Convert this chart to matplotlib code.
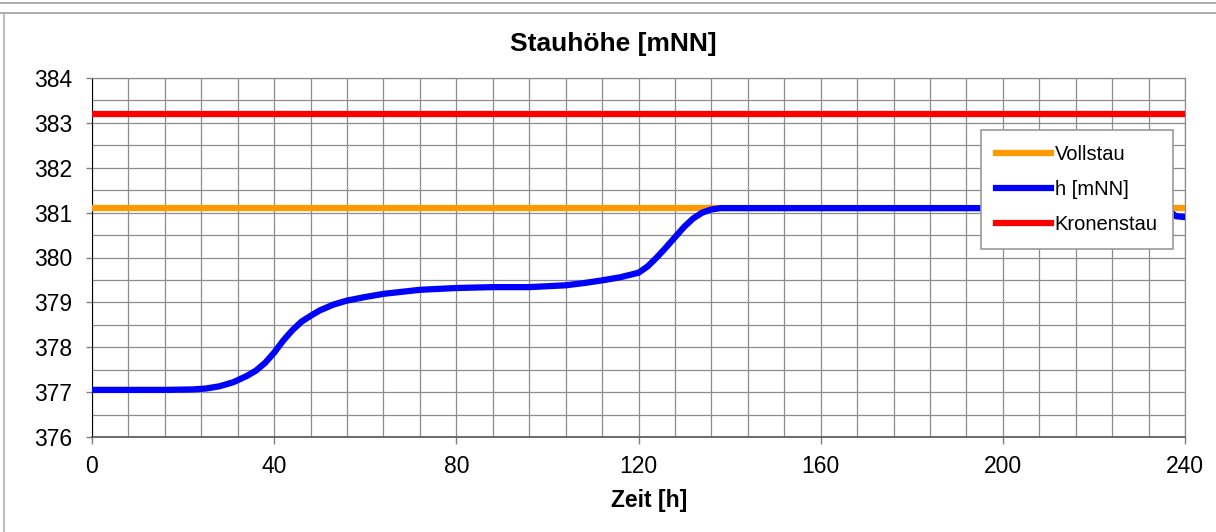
import numpy as np
import matplotlib
matplotlib.use("Agg")
import matplotlib.pyplot as plt
from matplotlib.lines import Line2D

plt.rcParams['font.family'] = ['Liberation Sans', 'DejaVu Sans']

# data
zeit = [0, 8, 16, 22, 25, 28, 31, 34, 36, 38, 40, 42, 44, 46, 48, 50, 53, 56,
        60, 64, 72, 80, 88, 96, 104, 108, 112, 116, 120, 122, 124, 126, 128,
        130, 132, 134, 136, 138, 150, 200, 236, 237, 238, 240]
h_mnn = [377.05, 377.05, 377.05, 377.06, 377.08, 377.13, 377.22, 377.36, 377.48,
         377.65, 377.88, 378.15, 378.38, 378.57, 378.70, 378.82, 378.95, 379.04,
         379.12, 379.19, 379.28, 379.32, 379.34, 379.34, 379.38, 379.43, 379.49,
         379.56, 379.66, 379.80, 380.00, 380.22, 380.45, 380.68, 380.87, 381.00,
         381.07, 381.10, 381.10, 381.10, 381.10, 381.00, 380.92, 380.90]
vollstau = 381.1
kronenstau = 383.2
x_ticks = [0, 40, 80, 120, 160, 200, 240]
y_ticks = [376, 377, 378, 379, 380, 381, 382, 383, 384]

fig = plt.figure(figsize=(12.16, 5.32), dpi=100)
ax = fig.add_axes([92/1216, 1-437/532, (1185-92)/1216, (437-78)/532])

ax.plot([0, 240], [vollstau, vollstau], color='#ff9900', lw=4.5, label='Vollstau', zorder=3)
ax.plot(zeit, h_mnn, color='#0000ff', lw=4.5, label='h [mNN]', zorder=4)
ax.plot([0, 240], [kronenstau, kronenstau], color='#ff0000', lw=4.5, label='Kronenstau', zorder=3)

ax.set_xlim(0, 240)
ax.set_ylim(376, 384)
ax.set_xticks(x_ticks)
ax.set_yticks(y_ticks)
ax.set_xticks(np.arange(0, 241, 8), minor=True)
ax.set_yticks(np.arange(376, 384.1, 0.5), minor=True)
ax.grid(True, which='both', color='#8c8c8c', lw=0.9)
ax.tick_params(which='minor', length=0)
ax.tick_params(which='major', width=1, color='#808080', labelsize=16.5)
ax.tick_params(axis='x', which='major', length=5, pad=8)
ax.tick_params(axis='y', which='major', length=4.5, pad=10)
ax.set_axisbelow(True)
for s in ['top', 'right']:
    ax.spines[s].set_color('#8c8c8c')
    ax.spines[s].set_linewidth(0.9)
ax.spines['left'].set_color('#000000')
ax.spines['bottom'].set_color('#555555')
ax.spines['bottom'].set_linewidth(1.2)

fig.text(613/1216, 1-44/532, 'Stauhöhe [mNN]', ha='center', va='center',
         fontsize=19, fontweight='bold')
fig.text(649/1216, 1-500/532, 'Zeit [h]', ha='center', va='center',
         fontsize=16.5, fontweight='bold')

leg = ax.legend(loc='upper left', bbox_to_anchor=(981/1216, 1-130/532),
                bbox_transform=fig.transFigure, borderaxespad=0, fontsize=14.5,
                handlelength=2.75, handletextpad=0.15, labelspacing=0.8,
                fancybox=False, framealpha=1, edgecolor='#9a9a9a', borderpad=0.75)
leg.get_frame().set_linewidth(1.2)

# outer chart frame
fig.add_artist(Line2D([0, 1], [1-3/532, 1-3/532], color='#a0a0a0', lw=1.2))
fig.add_artist(Line2D([0, 1], [1-13/532, 1-13/532], color='#a0a0a0', lw=1.2))
fig.add_artist(Line2D([4/1216, 4/1216], [0, 1-13/532], color='#b0b0b0', lw=1.2))

fig.savefig('out.png', dpi=100)
